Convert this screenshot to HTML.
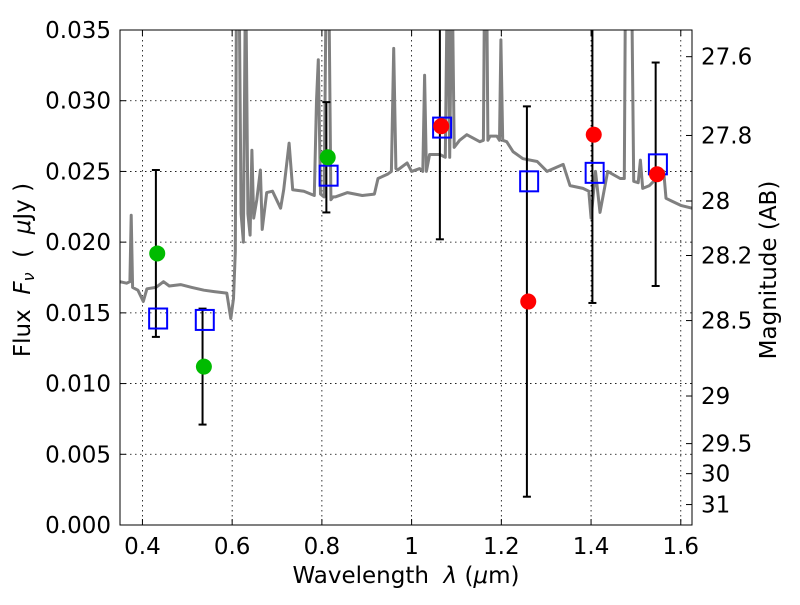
<!DOCTYPE html>
<html><head><meta charset="utf-8"><style>
html,body{margin:0;padding:0;background:#fff;}
svg text{font-family:"DejaVu Sans","Liberation Sans",sans-serif;fill:#000;white-space:pre;}
</style></head><body>
<svg id="chart" width="800" height="600" xmlns="http://www.w3.org/2000/svg" xml:space="preserve">
<g id="grid"></g>
<g id="spec"></g>
<g id="marks"></g>
<rect x="120" y="30" width="572" height="495" fill="none" stroke="#000" stroke-width="1"/>
<g id="axes"></g>
<text x="406" y="583" font-size="23" text-anchor="middle">Wavelength  <tspan font-style="italic">λ</tspan> (<tspan font-style="italic">μ</tspan>m)</text>
<text transform="translate(30,270) rotate(-90)" font-size="23" text-anchor="middle">Flux  <tspan font-style="italic">F<tspan font-size="16" dy="4">ν</tspan></tspan><tspan dy="-4">  (  </tspan><tspan font-style="italic">μ</tspan>Jy )</text>
<text transform="translate(776,270) rotate(-90)" font-size="23" text-anchor="middle">Magnitude (AB)</text>
</svg>
<script>
const xTicks=[0.4,0.6,0.8,1.0,1.2,1.4,1.6];
const xTickLabels=["0.4","0.6","0.8","1","1.2","1.4","1.6"];
const yTicks=[0,0.005,0.010,0.015,0.020,0.025,0.030,0.035];
const yTickLabels=["0.000","0.005","0.010","0.015","0.020","0.025","0.030","0.035"];
const magTicks=[27.6,27.8,28,28.2,28.5,29,29.5,30,31];
const magTickLabels=["27.6","27.8","28","28.2","28.5","29","29.5","30","31"];
const specWave=[0.35,0.365,0.372,0.375,0.378,0.39,0.402,0.41,0.43,0.447,0.46,0.485,0.51,0.537,0.56,0.588,0.597,0.603,0.607,0.61,0.615,0.62,0.625,0.63,0.635,0.64,0.644,0.648,0.655,0.663,0.667,0.677,0.69,0.708,0.715,0.727,0.735,0.76,0.783,0.788,0.792,0.797,0.805,0.81,0.815,0.82,0.825,0.83,0.857,0.89,0.917,0.925,0.946,0.955,0.96,0.965,0.969,0.99,1.0,1.018,1.025,1.029,1.033,1.04,1.063,1.075,1.08,1.085,1.09,1.095,1.107,1.123,1.152,1.16,1.163,1.167,1.17,1.175,1.19,1.196,1.199,1.203,1.212,1.226,1.248,1.28,1.302,1.338,1.353,1.382,1.395,1.4,1.41,1.42,1.437,1.465,1.474,1.477,1.49,1.495,1.505,1.51,1.515,1.53,1.562,1.567,1.58,1.6,1.625];
const specFlux=[0.0172,0.0171,0.0172,0.0219,0.0168,0.0166,0.0158,0.0167,0.0168,0.0172,0.0169,0.0170,0.0168,0.0166,0.0165,0.0164,0.0146,0.0160,0.0193,0.040,0.040,0.022,0.020,0.040,0.022,0.0205,0.0265,0.0217,0.0230,0.0251,0.0209,0.0235,0.0236,0.0224,0.0237,0.027,0.0237,0.0236,0.0233,0.030,0.0329,0.0234,0.0232,0.040,0.040,0.023,0.0232,0.0232,0.0235,0.0233,0.0234,0.0245,0.0248,0.0250,0.0337,0.0252,0.0251,0.0256,0.0250,0.0252,0.0250,0.0318,0.0250,0.0262,0.0262,0.026,0.040,0.026,0.040,0.0267,0.0272,0.0276,0.0271,0.0272,0.040,0.040,0.0272,0.0275,0.0275,0.0272,0.0343,0.0272,0.0271,0.0264,0.0259,0.0257,0.0250,0.0255,0.0240,0.0238,0.0236,0.0217,0.0250,0.0221,0.0250,0.0245,0.0245,0.040,0.040,0.0243,0.0242,0.0258,0.0238,0.0240,0.0250,0.0231,0.0229,0.0226,0.0224];
const obsWave=[0.43,0.534,0.81,1.063,1.257,1.403,1.544];
const obsFlux=[0.0192,0.0112,0.0260,0.0282,0.0158,0.0276,0.0248];
const obsErr=[0.0059,0.0041,0.0039,0.0080,0.0138,0.0119,0.0079];
const obsColor=["#00bb00","#00bb00","#00bb00","#ff0000","#ff0000","#ff0000","#ff0000"];
const modelFlux=[0.0146,0.0145,0.0247,0.0281,0.0243,0.0249,0.0255];

const X0=120,X1=692,Y0=525,Y1=30,XMIN=0.35,XMAX=1.625,YMIN=0,YMAX=0.035;
const xs=v=>X0+(v-XMIN)/(XMAX-XMIN)*(X1-X0);
const ys=v=>Y0-(v-YMIN)/(YMAX-YMIN)*(Y0-Y1);
const magToFlux=m=>Math.pow(10,(23.9-m)/2.5);
const NS="http://www.w3.org/2000/svg";
function mk(tag,parent,attrs){const e=document.createElementNS(NS,tag);for(const k in attrs)e.setAttribute(k,attrs[k]);parent.appendChild(e);return e;}
const grid=document.getElementById('grid'),axes=document.getElementById('axes'),spec=document.getElementById('spec'),marks=document.getElementById('marks');

xTicks.forEach((t,i)=>{const x=xs(t);
 let g=mk('line',grid,{x1:x,x2:x,y1:Y1,y2:Y0,stroke:'#000','stroke-width':0.8,'stroke-dasharray':'1.5,3.5'});
 
 let a=mk('line',axes,{x1:x,x2:x,y1:Y0,y2:Y0-6,stroke:'#000'});
 let b=mk('line',axes,{x1:x,x2:x,y1:Y1,y2:Y1+6,stroke:'#000'});
 let l=mk('text',axes,{x:x,y:Y0+29,'font-size':23,'text-anchor':'middle'});l.textContent=xTickLabels[i];
 });
yTicks.forEach((t,i)=>{const y=ys(t);
 if(i>0&&i<yTicks.length-1){let g=mk('line',grid,{x1:X0,x2:X1,y1:y,y2:y,stroke:'#000','stroke-width':0.8,'stroke-dasharray':'1.5,3.5'});
 }
 let a=mk('line',axes,{x1:X0,x2:X0+6,y1:y,y2:y,stroke:'#000'});
 let l=mk('text',axes,{x:X0-9,y:y+8,'font-size':23,'text-anchor':'end'});l.textContent=yTickLabels[i];
 });
magTicks.forEach((m,i)=>{const y=ys(magToFlux(m));
 let a=mk('line',axes,{x1:X1-6,x2:X1,y1:y,y2:y,stroke:'#000'});
 let l=mk('text',axes,{x:X1+9,y:y+8,'font-size':23,'text-anchor':'start'});l.textContent=magTickLabels[i];
 });

const cp=mk('clipPath',spec,{id:'clip'});mk('rect',cp,{x:X0,y:Y1,width:X1-X0,height:Y0-Y1});
let pts=specWave.map((w,i)=>xs(w).toFixed(1)+','+ys(specFlux[i]).toFixed(1)).join(' ');
let pl=mk('polyline',spec,{points:pts,fill:'none',stroke:'#808080','stroke-width':3,'clip-path':'url(#clip)','stroke-linejoin':'round'});


obsWave.forEach((w,i)=>{const x=xs(w);
 const bot=ys(obsFlux[i]-obsErr[i]);
 const eg=mk('g',marks,{'clip-path':'url(#clip)'});
 
 mk('line',eg,{x1:x,x2:x,y1:ys(obsFlux[i]+obsErr[i]),y2:bot,stroke:'#000','stroke-width':2});
 mk('line',eg,{x1:x-4,x2:x+4,y1:ys(obsFlux[i]+obsErr[i]),y2:ys(obsFlux[i]+obsErr[i]),stroke:'#000','stroke-width':2});
 mk('line',eg,{x1:x-4,x2:x+4,y1:bot,y2:bot,stroke:'#000','stroke-width':2});
 let r=mk('rect',marks,{x:xs(w+0.005)-9,y:ys(modelFlux[i])-10,width:18,height:20,fill:'none',stroke:'#0000ff','stroke-width':2});
 
 let c=mk('circle',marks,{cx:xs(w+0.003),cy:ys(obsFlux[i]),r:8,fill:obsColor[i]});
 
});
</script>
</body></html>
